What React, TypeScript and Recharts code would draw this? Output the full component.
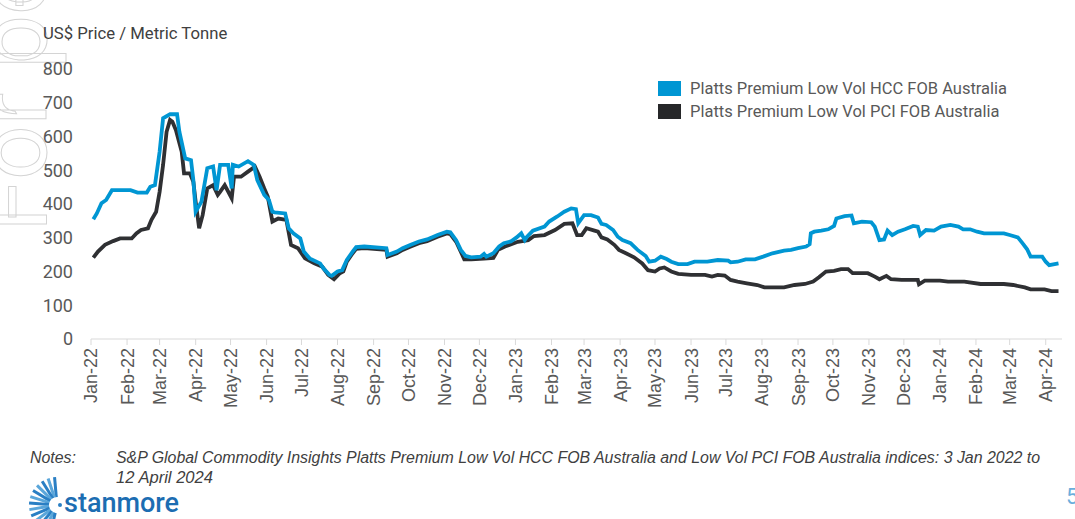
import React from 'react';
import { LineChart, Line, XAxis, YAxis } from 'recharts';

// Platts Premium Low Vol HCC FOB Australia (US$/t)
const hccDates = [
  '2022-01-03', '2022-01-06', '2022-01-10', '2022-01-14', '2022-01-19', '2022-02-04', '2022-02-10', '2022-02-18',
  '2022-02-21', '2022-02-25', '2022-03-01', '2022-03-04', '2022-03-10', '2022-03-16', '2022-03-18', '2022-03-23',
  '2022-03-28', '2022-03-30', '2022-04-01', '2022-04-06', '2022-04-11', '2022-04-16', '2022-04-19', '2022-04-22',
  '2022-04-29', '2022-05-02', '2022-05-03', '2022-05-08', '2022-05-16', '2022-05-21', '2022-05-24', '2022-05-30',
  '2022-06-03', '2022-06-06', '2022-06-08', '2022-06-17', '2022-06-20', '2022-06-24', '2022-06-30', '2022-07-03',
  '2022-07-08', '2022-07-17', '2022-07-20', '2022-07-25', '2022-07-27', '2022-08-01', '2022-08-05', '2022-08-09',
  '2022-08-14', '2022-08-17', '2022-08-24', '2022-09-12', '2022-09-13', '2022-09-17', '2022-09-21', '2022-09-26',
  '2022-10-03', '2022-10-10', '2022-10-17', '2022-10-26', '2022-11-03', '2022-11-06', '2022-11-11', '2022-11-15',
  '2022-11-19', '2022-11-24', '2022-12-02', '2022-12-05', '2022-12-07', '2022-12-13', '2022-12-18', '2022-12-22',
  '2022-12-28', '2023-01-02', '2023-01-06', '2023-01-09', '2023-01-11', '2023-01-16', '2023-01-26', '2023-01-30',
  '2023-02-06', '2023-02-12', '2023-02-18', '2023-02-22', '2023-02-24', '2023-03-01', '2023-03-07', '2023-03-13',
  '2023-03-16', '2023-03-20', '2023-03-26', '2023-03-30', '2023-04-03', '2023-04-10', '2023-04-16', '2023-04-23',
  '2023-04-26', '2023-05-01', '2023-05-06', '2023-05-11', '2023-05-15', '2023-05-21', '2023-05-29', '2023-06-04',
  '2023-06-15', '2023-06-24', '2023-07-03', '2023-07-05', '2023-07-11', '2023-07-18', '2023-07-26', '2023-08-02',
  '2023-08-10', '2023-08-20', '2023-08-26', '2023-09-01', '2023-09-08', '2023-09-11', '2023-09-12', '2023-09-15',
  '2023-09-21', '2023-09-27', '2023-10-02', '2023-10-04', '2023-10-11', '2023-10-17', '2023-10-19', '2023-10-26',
  '2023-11-03', '2023-11-06', '2023-11-10', '2023-11-14', '2023-11-17', '2023-11-21', '2023-11-26', '2023-12-02',
  '2023-12-09', '2023-12-13', '2023-12-15', '2023-12-20', '2023-12-27', '2024-01-02', '2024-01-10', '2024-01-17',
  '2024-01-21', '2024-01-27', '2024-02-02', '2024-02-08', '2024-02-25', '2024-03-01', '2024-03-08', '2024-03-12',
  '2024-03-16', '2024-03-19', '2024-03-29', '2024-04-01', '2024-04-04', '2024-04-12',
];
const hccValues = [
  355, 372, 402, 412, 441, 441, 434, 434,
  451, 456, 555, 654, 666, 666, 614, 535,
  530, 471, 377, 407, 506, 511, 441, 516,
  516, 446, 516, 511, 527, 516, 471, 427,
  412, 377, 375, 372, 328, 313, 298, 259,
  239, 224, 209, 190, 187, 200, 204, 234,
  259, 272, 274, 269, 249, 254, 259, 269,
  279, 289, 295, 308, 318, 316, 293, 264,
  246, 242, 244, 252, 244, 254, 274, 284,
  289, 301, 313, 293, 303, 321, 333, 348,
  363, 377, 387, 385, 343, 367, 367, 360,
  341, 338, 323, 303, 293, 284, 264, 246,
  229, 232, 244, 237, 229, 222, 222, 229,
  229, 234, 232, 227, 229, 236, 236, 244,
  254, 262, 264, 269, 274, 281, 313, 318,
  321, 325, 335, 357, 364, 366, 343, 348,
  346, 333, 293, 295, 321, 308, 318, 325,
  335, 333, 308, 323, 321, 333, 338, 333,
  325, 325, 318, 313, 313, 308, 301, 284,
  266, 244, 244, 229, 219, 224,
];

// Platts Premium Low Vol PCI FOB Australia (US$/t)
const pciDates = [
  '2022-01-03', '2022-01-07', '2022-01-13', '2022-01-20', '2022-01-26', '2022-02-05', '2022-02-09', '2022-02-13',
  '2022-02-19', '2022-02-22', '2022-02-26', '2022-03-01', '2022-03-04', '2022-03-07', '2022-03-10', '2022-03-12',
  '2022-03-15', '2022-03-20', '2022-03-22', '2022-03-27', '2022-03-30', '2022-04-01', '2022-04-04', '2022-04-07',
  '2022-04-11', '2022-04-16', '2022-04-20', '2022-04-22', '2022-04-26', '2022-05-02', '2022-05-04', '2022-05-10',
  '2022-05-16', '2022-05-22', '2022-05-26', '2022-05-30', '2022-06-02', '2022-06-06', '2022-06-11', '2022-06-18',
  '2022-06-22', '2022-06-28', '2022-07-04', '2022-07-12', '2022-07-19', '2022-07-24', '2022-07-29', '2022-08-03',
  '2022-08-06', '2022-08-09', '2022-08-14', '2022-08-17', '2022-08-24', '2022-09-12', '2022-09-13', '2022-09-17',
  '2022-09-21', '2022-09-26', '2022-10-03', '2022-10-10', '2022-10-17', '2022-10-26', '2022-11-03', '2022-11-06',
  '2022-11-11', '2022-11-15', '2022-11-18', '2022-11-24', '2022-12-05', '2022-12-13', '2022-12-17', '2022-12-23',
  '2023-01-03', '2023-01-12', '2023-01-17', '2023-01-26', '2023-02-04', '2023-02-12', '2023-02-19', '2023-02-23',
  '2023-02-27', '2023-03-03', '2023-03-10', '2023-03-13', '2023-03-16', '2023-03-21', '2023-03-27', '2023-03-31',
  '2023-04-06', '2023-04-13', '2023-04-20', '2023-04-25', '2023-05-01', '2023-05-05', '2023-05-09', '2023-05-15',
  '2023-05-21', '2023-06-01', '2023-06-13', '2023-06-19', '2023-06-24', '2023-06-30', '2023-07-05', '2023-07-11',
  '2023-07-19', '2023-07-28', '2023-08-03', '2023-08-20', '2023-08-29', '2023-09-07', '2023-09-14', '2023-09-19',
  '2023-09-25', '2023-10-02', '2023-10-08', '2023-10-14', '2023-10-18', '2023-10-31', '2023-11-06', '2023-11-10',
  '2023-11-16', '2023-11-20', '2023-11-29', '2023-12-13', '2023-12-14', '2023-12-19', '2024-01-01', '2024-01-08',
  '2024-01-22', '2024-02-05', '2024-02-25', '2024-03-04', '2024-03-14', '2024-03-19', '2024-03-31', '2024-04-06',
  '2024-04-12',
];
const pciValues = [
  241, 259, 279, 290, 298, 298, 313, 323,
  328, 353, 377, 436, 516, 614, 649, 644,
  619, 555, 491, 491, 466, 407, 328, 367,
  446, 456, 427, 436, 456, 417, 481, 481,
  496, 511, 481, 446, 422, 348, 357, 353,
  279, 269, 239, 224, 214, 190, 177, 195,
  200, 229, 254, 267, 269, 264, 244, 249,
  254, 264, 274, 284, 290, 303, 313, 311,
  288, 259, 236, 236, 238, 240, 264, 274,
  288, 293, 305, 308, 323, 341, 343, 308,
  308, 328, 321, 318, 301, 295, 279, 264,
  254, 242, 224, 204, 200, 209, 212, 200,
  193, 190, 190, 185, 190, 188, 175, 170,
  165, 160, 153, 153, 160, 163, 170, 183,
  200, 202, 207, 207, 195, 195, 185, 177,
  187, 177, 175, 175, 162, 173, 173, 170,
  170, 163, 163, 160, 153, 147, 147, 142,
  142,
];

const monthTicks = [
  '2022-01-01', '2022-02-01', '2022-03-01', '2022-04-01', '2022-05-01', '2022-06-01', '2022-07-01',
  '2022-08-01', '2022-09-01', '2022-10-01', '2022-11-01', '2022-12-01', '2023-01-01', '2023-02-01',
  '2023-03-01', '2023-04-01', '2023-05-01', '2023-06-01', '2023-07-01', '2023-08-01', '2023-09-01',
  '2023-10-01', '2023-11-01', '2023-12-01', '2024-01-01', '2024-02-01', '2024-03-01', '2024-04-01',
];
const monthNames = ['Jan', 'Feb', 'Mar', 'Apr', 'May', 'Jun', 'Jul', 'Aug', 'Sep', 'Oct', 'Nov', 'Dec'];
const priceTicks = [0, 100, 200, 300, 400, 500, 600, 700, 800];

const HCC_COLOR = '#0096d3';
const PCI_COLOR = '#2f3033';
const GREY = '#595959';

const hccData = hccDates.map((d, i) => ({ t: Date.parse(d), v: hccValues[i] }));
const pciData = pciDates.map((d, i) => ({ t: Date.parse(d), v: pciValues[i] }));
const tickTimes = monthTicks.map((d) => Date.parse(d));

const fmtMonth = (t: number) => {
  const d = new Date(t);
  return `${monthNames[d.getUTCMonth()]}-${String(d.getUTCFullYear()).slice(2)}`;
};

function MonthTick(props: any) {
  const { x, y, payload } = props;
  return (
    <g transform={`translate(${x},${y})`}>
      <text
        x={0}
        y={0}
        dy="0.36em"
        transform="rotate(-90)"
        textAnchor="end"
        fill={GREY}
        fontSize={18}
        fontFamily="'Liberation Sans', Arial, sans-serif"
      >
        {fmtMonth(payload.value)}
      </text>
    </g>
  );
}

function Logo() {
  const rays = Array.from({ length: 13 }, (_, i) => 95 + i * 13.5);
  return (
    <svg width={190} height={47} style={{ position: 'absolute', left: 20, top: 472 }}>
      {rays.map((deg, i) => {
        const a = (deg * Math.PI) / 180;
        const cx = 37;
        const cy = 33;
        return (
          <line
            key={i}
            x1={cx + Math.cos(a) * 8}
            y1={cy - Math.sin(a) * 8}
            x2={cx + Math.cos(a) * 28}
            y2={cy - Math.sin(a) * 28}
            stroke={i % 2 ? '#5aa6da' : '#2a7fc4'}
            strokeWidth={3}
          />
        );
      })}
      <circle cx={40} cy={33} r={2} fill="#2a7fc4" />
      <text x={44} y={40} fontSize={27} fontFamily="Roboto, sans-serif" fill="#1c6db2" fontWeight={500}>
        stanmore
      </text>
    </svg>
  );
}

export default function App() {
  return (
    <div style={{ position: 'absolute', left: 0, top: 0, width: 1075, height: 519, background: '#fff', overflow: 'hidden', fontFamily: 'Roboto, sans-serif' }}>
      {/* faint watermark */}
      <svg width={120} height={260} style={{ position: 'absolute', left: 0, top: 0 }}>
        <text
          transform="translate(46,232) rotate(-90)"
          fontSize={96}
          fontFamily="Roboto, sans-serif"
          fill="none"
          stroke="#d4d4d4"
          strokeWidth={1}
        >
          For personal use only
        </text>
      </svg>

      <div style={{ position: 'absolute', left: 43, top: 24, fontSize: 16.7, color: '#404040' }}>US$ Price / Metric Tonne</div>

      <div style={{ position: 'absolute', left: 0, top: 0 }}>
        <LineChart width={1075} height={420} margin={{ top: 69, right: 13, left: 41, bottom: 1 }}>
          <XAxis
            dataKey="t"
            type="number"
            domain={[Date.parse('2022-01-01'), Date.parse('2024-04-15')]}
            ticks={tickTimes}
            interval={0}
            tick={<MonthTick />}
            height={80}
            tickSize={6}
            tickMargin={3}
            stroke="#d9d9d9"
            allowDataOverflow
          />
          <YAxis
            type="number"
            domain={[0, 800]}
            ticks={priceTicks}
            interval={0}
            width={50}
            axisLine={false}
            tickLine={false}
            tickMargin={12}
            tick={{ fill: GREY, fontSize: 18, fontFamily: 'Roboto, sans-serif' }}
          />
          <Line data={pciData} dataKey="v" type="linear" stroke={PCI_COLOR} strokeWidth={3.8} dot={false} isAnimationActive={false} />
          <Line data={hccData} dataKey="v" type="linear" stroke={HCC_COLOR} strokeWidth={3.8} dot={false} isAnimationActive={false} />
        </LineChart>
      </div>

      {/* legend */}
      <div style={{ position: 'absolute', left: 658, top: 77, fontSize: 16.5, color: GREY, lineHeight: '23px' }}>
        <div style={{ display: 'flex', alignItems: 'center' }}>
          <span style={{ display: 'inline-block', width: 23, height: 15, background: HCC_COLOR, marginRight: 9 }} />
          Platts Premium Low Vol HCC FOB Australia
        </div>
        <div style={{ display: 'flex', alignItems: 'center' }}>
          <span style={{ display: 'inline-block', width: 23, height: 15, background: '#262729', marginRight: 9 }} />
          Platts Premium Low Vol PCI FOB Australia
        </div>
      </div>

      {/* notes */}
      <svg width={1075} height={60} style={{ position: 'absolute', left: 0, top: 440 }}>
        <g fontFamily="'Liberation Sans', Arial, sans-serif" fontStyle="italic" fontSize={16} fill="#404040">
          <text x={30} y={23} textLength={46} lengthAdjust="spacingAndGlyphs">Notes:</text>
          <text x={116} y={23} textLength={924} lengthAdjust="spacingAndGlyphs">
            S&amp;P Global Commodity Insights Platts Premium Low Vol HCC FOB Australia and Low Vol PCI FOB Australia indices: 3 Jan 2022 to
          </text>
          <text x={116} y={43} textLength={97} lengthAdjust="spacingAndGlyphs">12 April 2024</text>
        </g>
      </svg>

      <Logo />
      <div style={{ position: 'absolute', left: 1066, top: 484, fontSize: 22, color: '#6aaedc' }}>5</div>
    </div>
  );
}
